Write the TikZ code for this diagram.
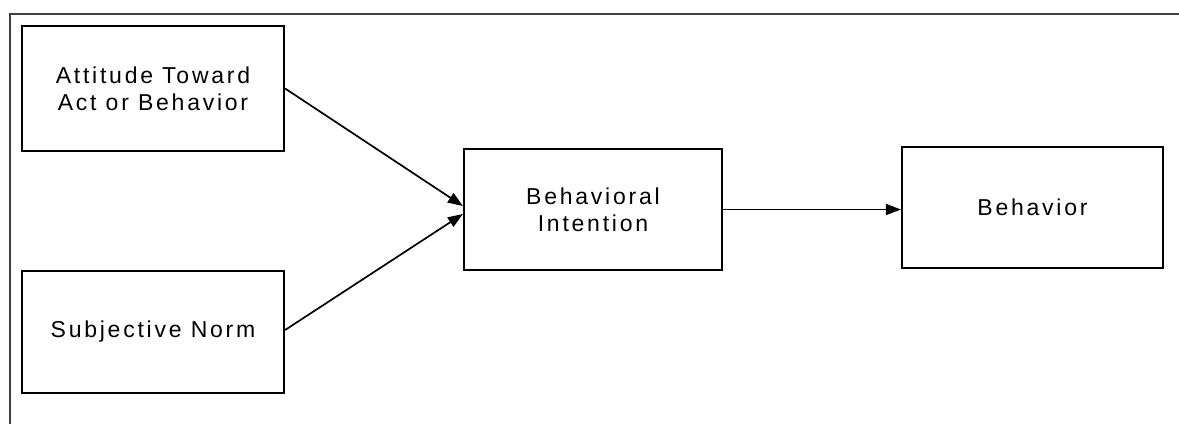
\documentclass[tikz,border=0pt]{standalone}
\usepackage{fontspec}
\setmainfont{Liberation Sans}[LetterSpace=12]
\usetikzlibrary{arrows.meta}
\begin{document}
\begin{tikzpicture}[x=1pt,y=-1pt,
  blk/.style={draw=black, line width=2.2pt, rectangle, align=center,
    font=\fontsize{23}{27}\selectfont, inner sep=0pt},
  conn/.style={line width=1.7pt, -{Triangle[length=15pt,width=11pt]}},
  frame/.style={draw=black!75, line width=1.8pt}]
\useasboundingbox[fill=white] (0,0) rectangle (1179,424);
\coordinate (f2) at (1179,14);
\coordinate (f3) at (10,424);
\draw[frame] (f2) -- (10,14) -- (f3);
\node[blk, minimum width=262pt, minimum height=125pt] (A) at (153,88.5) {Attitude Toward\\Act or Behavior};
\node[blk, minimum width=262pt, minimum height=122pt] (S) at (153,332) {Subjective Norm};
\node[blk, minimum width=258pt, minimum height=121pt] (BI) at (593,209.5) {Behavioral\\Intention};
\node[blk, minimum width=261pt, minimum height=121pt] (B) at (1032.5,207.5) {Behavior};
\draw[conn] (A.east) -- ([yshift=3.5pt]BI.west);
\draw[conn] ([yshift=2pt]S.east) -- ([yshift=-4.5pt]BI.west);
\draw[conn] (BI.east) -- (B.west |- BI.east);
\end{tikzpicture}
\end{document}
